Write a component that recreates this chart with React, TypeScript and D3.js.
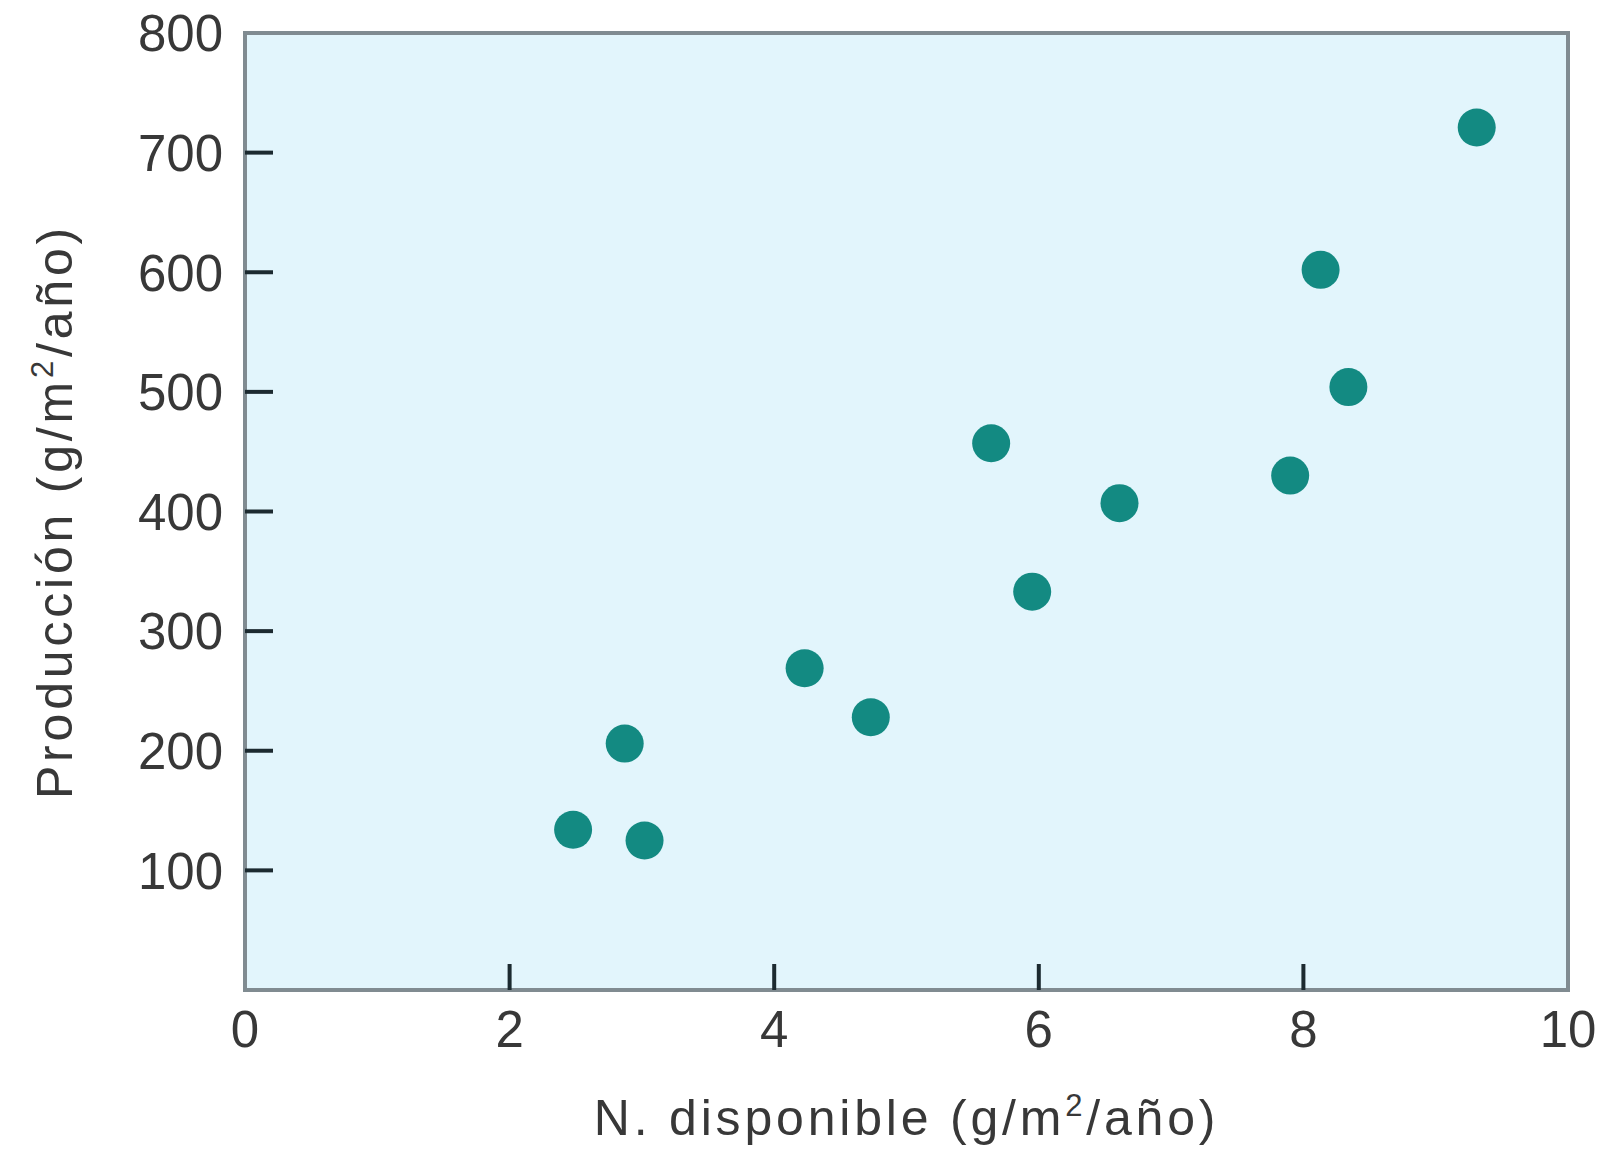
import React from "react";
import * as d3 from "d3";

const nAvailable = [2.48, 2.87, 3.02, 4.23, 4.73, 5.64, 5.95, 6.61, 7.9, 8.13, 8.34, 9.31];
const production = [134, 206, 125, 269, 228, 457, 333, 407, 430, 602, 504, 721];
const xTickLabels = [0, 2, 4, 6, 8, 10];
const yTickLabels = [100, 200, 300, 400, 500, 600, 700, 800];

const W = 1613;
const H = 1150;
const M = { left: 245, right: 1568, top: 33, bottom: 990 };
const FONT = "'Liberation Sans', Arial, Helvetica, sans-serif";

export default function App() {
  const x = d3.scaleLinear().domain([0, 10]).range([M.left, M.right]);
  const y = d3.scaleLinear().domain([0, 800]).range([M.bottom, M.top]);
  const pts = nAvailable.map((v, i) => ({ x: v, y: production[i] }));
  return (
    <svg
      width={W}
      height={H}
      style={{ position: "absolute", left: 0, top: 0, background: "#ffffff" }}
      fontFamily={FONT}
    >
      <rect
        x={M.left}
        y={M.top}
        width={M.right - M.left}
        height={M.bottom - M.top}
        fill="#e2f5fc"
        stroke="#808b91"
        strokeWidth={4}
      />
      {yTickLabels.map((t) => (
        <g key={"y" + t}>
          {t < 800 && (
            <line x1={M.left} x2={M.left + 28} y1={y(t)} y2={y(t)} stroke="#1c2a30" strokeWidth={4} />
          )}
          <text x={223} y={y(t)} dy="0.36em" textAnchor="end" fontSize={51} fill="#383838">
            {t}
          </text>
        </g>
      ))}
      {xTickLabels.map((t) => (
        <g key={"x" + t}>
          {t > 0 && t < 10 && (
            <line x1={x(t)} x2={x(t)} y1={M.bottom} y2={M.bottom - 26} stroke="#1c2a30" strokeWidth={4} />
          )}
          <text x={x(t)} y={1047} textAnchor="middle" fontSize={51} fill="#383838">
            {t}
          </text>
        </g>
      ))}
      {pts.map((p, i) => (
        <circle key={i} cx={x(p.x)} cy={y(p.y)} r={19} fill="#138a82" />
      ))}
      <text
        x={(M.left + M.right) / 2}
        y={1135}
        textAnchor="middle"
        fontSize={50}
        letterSpacing={3.8}
        fill="#383838"
      >
        N. disponible (g/m
        <tspan dy={-19} fontSize={31}>2</tspan>
        <tspan dy={19}>/año)</tspan>
      </text>
      <text
        transform={`translate(72, ${(M.top + M.bottom) / 2}) rotate(-90)`}
        textAnchor="middle"
        fontSize={50}
        letterSpacing={3.8}
        fill="#383838"
      >
        Producción (g/m
        <tspan dy={-19} fontSize={31}>2</tspan>
        <tspan dy={19}>/año)</tspan>
      </text>
    </svg>
  );
}
